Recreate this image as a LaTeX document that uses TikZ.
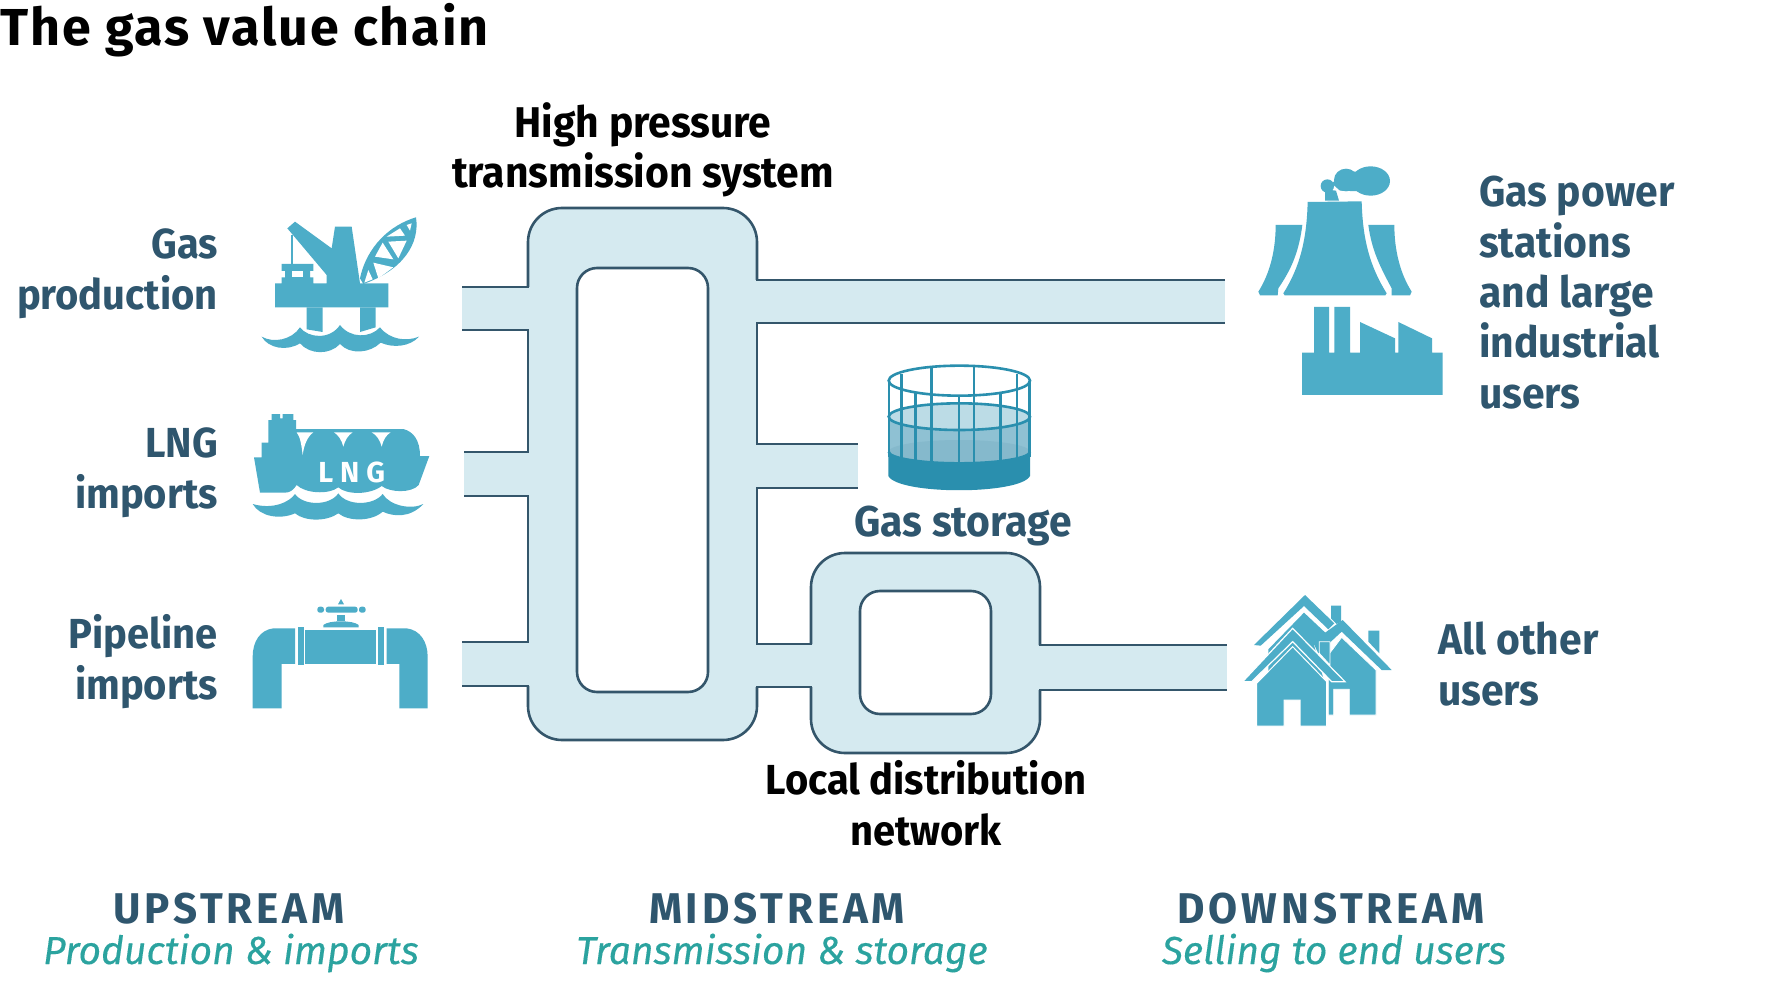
\documentclass[tikz,border=0pt]{standalone}
\usepackage{fontspec}
\setmainfont{Fira Sans}[FakeStretch=0.95]
\newfontfamily\titlefont{Fira Sans}[FakeStretch=1.0,LetterSpace=3.7]
\newfontfamily\capsfont{Fira Sans}[FakeStretch=0.98,LetterSpace=9]
\newfontfamily\markfont{Fira Sans}[LetterSpace=24]
\newfontfamily\itfont{Fira Sans}[FakeStretch=1.0,FakeBold=0.25]
\definecolor{txt}{HTML}{2F566E}
\definecolor{teal}{HTML}{2BA39F}
\definecolor{ico}{HTML}{4DADC8}
\definecolor{pipe}{HTML}{D5EAF0}
\definecolor{edge}{HTML}{34566B}
\definecolor{dk}{HTML}{2A8FAE}
\tikzset{
 lab/.style={text=txt,inner sep=0pt,font=\fontsize{43}{50.3}\selectfont\bfseries},
 lefttab/.style={lab,anchor=base east,align=right,font=\fontsize{42}{50.3}\selectfont\bfseries},
 blk/.style={lab,text=black},
 caps/.style={inner sep=0pt,text=txt,font=\capsfont\fontsize{43}{50}\selectfont\bfseries},
 sub/.style={inner sep=0pt,text=teal,font=\itfont\fontsize{39}{44}\selectfont\itshape},
 edgeline/.style={draw=edge,line width=2.6pt},
 zoomA/.style={x=0.33333pt,y=-0.33333pt},
 icon/.style={fill=ico,draw=none},
 hole/.style={fill=white,draw=none}
}
\begin{document}
\begin{tikzpicture}[x=1pt,y=-1pt]
\useasboundingbox[fill=white] (0,0) rectangle (1767,1000);
% title
\node[anchor=base west,inner sep=0pt,text=black,font=\titlefont\fontsize{52}{56}\selectfont\bfseries] (title) at (0,46) {The gas value chain};
% pipe fills
\fill[pipe] (462,287) rectangle (540,330);
\fill[pipe] (464,452) rectangle (540,496);
\fill[pipe] (462,642) rectangle (540,686);
\fill[pipe] (745,280) rectangle (1225,323);
\fill[pipe] (745,444) rectangle (858,488);
\fill[pipe] (745,644) rectangle (825,687);
\fill[pipe] (1030,645) rectangle (1227,690);
\fill[pipe,even odd rule] [rounded corners=34pt] (528,208) rectangle (757,740)
   [rounded corners=20pt] (577,268) rectangle (708,692);
\fill[pipe,even odd rule] [rounded corners=34pt] (811,553) rectangle (1040,753)
   [rounded corners=20pt] (860,591) rectangle (991,714);
% pipe edges
\begin{scope}[edgeline]
\draw[rounded corners=34pt] (528,287)--(528,208)--(757,208)--(757,280);
\draw[rounded corners=34pt] (757,687)--(757,740)--(528,740)--(528,686);
\draw (757,323)--(757,444) (757,488)--(757,644);
\draw (528,642)--(528,496) (528,452)--(528,330);
\draw[rounded corners=20pt] (577,268) rectangle (708,692);
\draw (462,287)--(529,287) (462,330)--(529,330);
\draw (464,452)--(529,452) (464,496)--(529,496);
\draw (462,642)--(529,642) (462,686)--(529,686);
\draw (756,280)--(1225,280) (756,323)--(1225,323);
\draw (756,444)--(858,444) (756,488)--(858,488);
\draw (756,644)--(812,644) (756,687)--(812,687);
\draw[rounded corners=34pt] (811,644)--(811,553)--(1040,553)--(1040,645);
\draw[rounded corners=34pt] (1040,690)--(1040,753)--(811,753)--(811,687);
\draw[rounded corners=20pt] (860,591) rectangle (991,714);
\draw (1039,645)--(1227,645) (1039,690)--(1227,690);
\end{scope}
% rig
\begin{scope}[shift={(230,190)},zoomA]
\fill[icon] (135,280)--(155,280)--(155,262)--(165,262)--(165,243)--(155,243)--(155,222)--(250,222)--(250,243)--(240,243)--(240,262)--(250,262)--(250,280)--(290,280)--(290,255)--(172,115)--(195,95)--(305,175)--(315,110)--(365,110)--(390,280)--(475,280)--(475,352)--(135,352)--cycle;
\fill[hole] (185,243) rectangle (218,262);
\fill[icon] (184,135) rectangle (190,225);
\fill[icon] (230,352)--(278,352)--(278,426)--(230,418)--cycle;
\fill[icon] (390,352)--(437,352)--(437,412)--(390,426)--cycle;
\fill[icon] (95,440) .. controls (130,460) and (185,450) .. (210,412) .. controls (235,445) and (300,450) .. (330,405) .. controls (360,445) and (420,445) .. (450,412) .. controls (480,450) and (530,455) .. (567,440) .. controls (540,470) and (490,475) .. (452,458) .. controls (420,490) and (360,495) .. (330,462) .. controls (300,495) and (240,495) .. (210,460) .. controls (170,485) and (115,475) .. (95,440) -- cycle;
\fill[icon] (390,265) .. controls (410,170) and (480,105) .. (558,82) .. controls (570,160) and (520,240) .. (400,282) -- cycle;
\fill[hole] (403,278)--(415,240)--(428,268)--cycle;
\fill[hole] (430,218)--(490,232)--(445,265)--cycle;
\fill[hole] (435,200)--(458,158)--(490,208)--cycle;
\fill[hole] (475,155)--(530,152)--(505,205)--cycle;
\fill[hole] (470,140)--(510,115)--(525,137)--cycle;
\fill[hole] (530,105)--(545,100)--(540,122)--cycle;
\end{scope}
% LNG ship and pipeline
\begin{scope}[shift={(230,400)},zoomA]
\fill[icon] (72,172)--(95,172)--(95,128)--(115,128)--(115,60)--(125,60)--(125,42)--(150,42)--(150,55)--(158,55)--(158,42)--(190,42)--(190,60)--(198,60)--(198,87)--(520,87) .. controls (550,95) and (570,120) .. (570,168)--(598,168)--(566,255) .. controls (545,280) and (480,278) .. (455,258) .. controls (420,285) and (350,285) .. (325,262) .. controls (295,285) and (225,280) .. (200,255) .. controls (190,270) and (180,278) .. (165,278)--(90,278)--cycle;
\fill[hole] (200,97)--(250,97) .. controls (232,110) and (222,135) .. (218,165) .. controls (214,130) and (210,110) .. (200,97)--cycle;
\fill[hole] (312,97)--(368,97) .. controls (355,105) and (345,120) .. (340,140) .. controls (335,120) and (325,105) .. (312,97)--cycle;
\fill[hole] (425,97)--(482,97) .. controls (468,105) and (460,120) .. (455,140) .. controls (450,120) and (440,105) .. (425,97)--cycle;
\node[inner sep=0pt,text=white,font=\markfont\fontsize{29}{30}\selectfont\bfseries] (lngmark) at (365,216) {LNG};
\fill[icon] (68,312) .. controls (130,330) and (180,305) .. (195,282) .. controls (220,318) and (300,318) .. (325,280) .. controls (350,318) and (430,318) .. (458,282) .. controls (480,318) and (545,330) .. (580,312) .. controls (540,355) and (490,350) .. (458,335) .. controls (425,365) and (355,365) .. (325,340) .. controls (290,365) and (225,365) .. (195,340) .. controls (150,360) and (90,350) .. (68,312) -- cycle;
% pipeline
\fill[icon] (68,925)--(155,925)--(155,792)--(195,792)--(195,685)--(130,685) .. controls (90,690) and (68,725) .. (68,770)--cycle;
\fill[icon] (203,682) rectangle (222,795);
\fill[icon] (225,689) rectangle (438,792);
\fill[icon] (444,682) rectangle (463,795);
\fill[icon] (470,685)--(530,685) .. controls (570,690) and (593,725) .. (593,770)--(593,925)--(508,925)--(508,792)--(470,792)--cycle;
\fill[icon] (322,645) rectangle (344,662);
\fill[icon] (280,682)--(280,675) .. controls (290,667) and (310,664) .. (333,664) .. controls (356,664) and (376,667) .. (386,675)--(386,682)--cycle;
\fill[icon,rounded corners=2.5pt] (287,620) rectangle (383,638);
\fill[icon,rounded corners=2.5pt] (262,620) rectangle (282,638);
\fill[icon,rounded corners=2.5pt] (387,620) rectangle (407,638);
\fill[icon] (324,613)--(333,597)--(342,613)--cycle;
\end{scope}
% power station and factory
\begin{scope}[shift={(1240,150)},zoomA]
\fill[icon] (130,430) .. controls (180,350) and (200,270) .. (203,156)--(365,154) .. controls (368,270) and (390,350) .. (440,430)--(436,436)--(134,436)--cycle;
\fill[icon] (107,225)--(187,225) .. controls (175,320) and (145,370) .. (115,415)--(113,436)--(60,436)--(55,425) .. controls (90,370) and (107,300) .. (107,225)--cycle;
\fill[icon] (385,225)--(463,225) .. controls (463,300) and (480,370) .. (515,425)--(510,436)--(455,436)--(455,415) .. controls (420,350) and (395,300) .. (385,225)--cycle;
\fill[icon] (255,152)--(297,152)--(288,122)--(255,118)--cycle;
\fill[icon] (262,108) circle [x radius=20,y radius=20];
\fill[icon] (318,90) circle [x radius=36,y radius=34];
\fill[icon] (392,93) circle [x radius=58,y radius=44];
\fill[icon] (275,100)--(320,65)--(390,65)--(390,125)--(300,122)--cycle;
\fill[icon] (186,735)--(608,735)--(608,608)--(576,608)--(576,565)--(475,516)--(475,608)--(465,608)--(465,565)--(360,516)--(360,608)--(330,608)--(330,471)--(283,471)--(283,608)--(267,608)--(267,471)--(222,471)--(222,608)--(186,608)--cycle;
\end{scope}
% storage
\begin{scope}[shift={(870,350)},zoomA]
\fill[color={rgb,255:red,143;green,193;blue,211}] (58,200) rectangle (478,320);
\fill[color={rgb,255:red,188;green,220;blue,230}] (268,200) ellipse [x radius=212,y radius=40];
\fill[color={rgb,255:red,133;green,185;blue,204}] (268,305) ellipse [x radius=212,y radius=35];
\fill[dk] (55,305) .. controls (75,350) and (460,350) .. (480,305) -- (480,378) .. controls (450,435) and (85,435) .. (55,378) -- cycle;
\begin{scope}[draw=dk,line width=2.6pt]
\draw (268,92) ellipse [x radius=212,y radius=45];
\draw (268,200) ellipse [x radius=212,y radius=40];
\draw (56,305) arc [start angle=180,end angle=0,x radius=212,y radius=35];
\draw (57,92)--(57,320) (479,92)--(479,320);
\draw (95,72)--(95,325) (441,72)--(441,325);
\draw (185,50)--(185,338) (312,47)--(312,338);
\draw (137,125)--(137,335) (267,140)--(267,338) (392,128)--(392,335);
\end{scope}
\end{scope}
% houses
\begin{scope}[shift={(1240,590)},zoomA]
\fill[icon] (273,47)--(303,47)--(303,95)--(290,102)--(273,85)--cycle;
\fill[icon] (42,165)--(195,15)--(283,100)--(265,118)--(192,48)--(62,167)--cycle;
\fill[icon] (85,178)--(192,68)--(258,130)--(222,165)--(260,300)--(85,300)--cycle;
\fill[icon] (385,122)--(418,122)--(418,190)--(385,155)--cycle;
\fill[icon,draw=white,line width=0.8pt] (265,195)--(305,142)--(408,240)--(408,375)--(328,375)--(328,298)--(281,298)--(281,375)--(265,375)--cycle;
\fill[icon] (218,155)--(308,90)--(455,240)--(425,240)--(305,125)--(235,190)--cycle;
\fill[icon,draw=white,line width=0.8pt] (238,155)--(270,155)--(270,225)--(238,190)--cycle;
\fill[icon,draw=white,line width=1.2pt] (8,275)--(158,115)--(315,275)--(275,275)--(158,155)--(35,275)--cycle;
\fill[icon,draw=white,line width=1pt] (50,280)--(158,170)--(260,275)--(260,408)--(180,408)--(180,330)--(132,330)--(132,408)--(50,408)--cycle;
\end{scope}
% labels
\node[lefttab] (gasprod) at (218,309) {Gas\\production};
\node[lefttab] (lng) at (218,508) {LNG\\imports};
\node[lefttab] (pipeimp) at (218,699) {Pipeline\\imports};
\node[blk,anchor=base,align=center] (hp) at (643,188) {High pressure\\transmission system};
\node[lab,anchor=base] (gasstor) at (963,536) {Gas storage};
\node[blk,anchor=base,align=center,font=\fontsize{42}{50.3}\selectfont\bfseries] (local) at (926,845) {Local distribution\\network};
\node[lab,anchor=base west,align=left] (powerusers) at (1479,408) {Gas power\\stations\\and large\\industrial\\users};
\node[lab,anchor=base west,align=left] (others) at (1438,705) {All other\\users};
\node[caps,anchor=base] (up) at (229,923) {UPSTREAM};
\node[caps,anchor=base] (mid) at (777,923) {MIDSTREAM};
\node[caps,anchor=base] (down) at (1331,923) {DOWNSTREAM};
\node[sub,anchor=base] (upsub) at (231,964) {Production \& imports};
\node[sub,anchor=base] (midsub) at (782,964) {Transmission \& storage};
\node[sub,anchor=base] (downsub) at (1334,964) {Selling to end users};
\end{tikzpicture}
\end{document}
